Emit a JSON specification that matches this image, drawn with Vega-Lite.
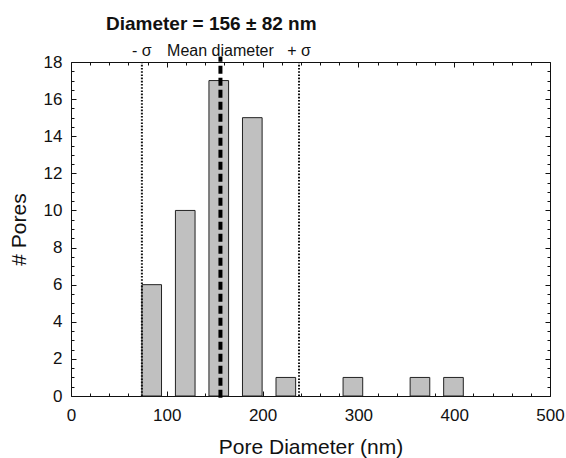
{
  "$schema": "https://vega.github.io/schema/vega-lite/v6.json",
  "width": 479,
  "height": 334,
  "autosize": "none",
  "padding": {"left": 71, "top": 62, "right": 16, "bottom": 62},
  "background": "white",
  "config": {
    "view": {"stroke": "#111", "strokeWidth": 1},
    "font": "Liberation Sans",
    "axis": {
      "domain": false,
      "grid": false,
      "labelFont": "Liberation Sans",
      "titleFont": "Liberation Sans",
      "labelColor": "#111",
      "titleColor": "#111",
      "titleFontWeight": "normal",
      "tickColor": "#111",
      "tickWidth": 1
    }
  },
  "title": {
    "text": "Diameter = 156 ± 82 nm",
    "anchor": "start",
    "frame": "group",
    "dx": 35,
    "fontSize": 19,
    "font": "Liberation Sans",
    "fontWeight": "bold",
    "baseline": "alphabetic",
    "offset": -6,
    "color": "#111"
  },
  "datasets": {
    "bins": [
      {"start": 74, "end": 94.5, "count": 6},
      {"start": 109, "end": 129.5, "count": 10},
      {"start": 144, "end": 164.5, "count": 17},
      {"start": 179, "end": 199.5, "count": 15},
      {"start": 214, "end": 234.5, "count": 1},
      {"start": 284, "end": 304.5, "count": 1},
      {"start": 354, "end": 374.5, "count": 1},
      {"start": 389, "end": 409.5, "count": 1}
    ],
    "sigma": [
      {"d": 74, "label": "- σ"},
      {"d": 238, "label": "+ σ"}
    ],
    "mean": [
      {"d": 156, "label": "Mean diameter"}
    ]
  },
  "layer": [
    {
      "data": {"name": "bins"},
      "mark": {"type": "rect", "fill": "#c0c0c0", "stroke": "#222", "strokeWidth": 1},
      "encoding": {
        "x": {
          "field": "start", "type": "quantitative",
          "scale": {"domain": [0, 500], "nice": false, "zero": false},
          "axis": {"orient": "bottom", "values": [0, 100, 200, 300, 400, 500], "tickSize": -5, "labelFontSize": 17, "labelPadding": 16, "title": "Pore Diameter (nm)", "titleFontSize": 21, "titlePadding": 13, "labelFlush": false}
        },
        "x2": {"field": "end"},
        "y": {
          "field": "count", "type": "quantitative",
          "scale": {"domain": [0, 18], "nice": false},
          "axis": {"orient": "left", "values": [0, 2, 4, 6, 8, 10, 12, 14, 16, 18], "tickSize": -5, "labelFontSize": 17, "labelPadding": 14, "title": "# Pores", "titleFontSize": 21, "titlePadding": 14, "labelFlush": false}
        },
        "y2": {"datum": 0}
      }
    },
    {
      "data": {"name": "sigma"},
      "mark": {"type": "rule", "stroke": "#111", "strokeWidth": 2, "strokeDash": [1.6, 1.6]},
      "encoding": {
        "x": {
          "field": "d", "type": "quantitative",
          "axis": {"orient": "bottom", "values": [20, 40, 60, 80, 120, 140, 160, 180, 220, 240, 260, 280, 320, 340, 360, 380, 420, 440, 460, 480], "tickSize": -3, "labels": false, "title": null}
        },
        "y": {"datum": 0, "type": "quantitative",
          "axis": {"orient": "left", "values": [0.5, 1, 1.5, 2.5, 3, 3.5, 4.5, 5, 5.5, 6.5, 7, 7.5, 8.5, 9, 9.5, 10.5, 11, 11.5, 12.5, 13, 13.5, 14.5, 15, 15.5, 16.5, 17, 17.5], "tickSize": -3, "labels": false, "title": null}
        },
        "y2": {"datum": 18}
      }
    },
    {
      "data": {"name": "mean"},
      "mark": {"type": "rule", "stroke": "#000", "strokeWidth": 4, "strokeDash": [8, 4]},
      "encoding": {
        "x": {
          "field": "d", "type": "quantitative",
          "axis": {"orient": "top", "values": [0, 100, 200, 300, 400, 500], "tickSize": -5, "labels": false, "title": null}
        },
        "y": {"datum": -0.1, "type": "quantitative",
          "axis": {"orient": "right", "values": [0, 2, 4, 6, 8, 10, 12, 14, 16, 18], "tickSize": -5, "labels": false, "title": null}
        },
        "y2": {"datum": 18.3}
      }
    },
    {
      "data": {"values": [
        {"d": 74, "label": "- σ"},
        {"d": 156, "label": "Mean diameter"},
        {"d": 238, "label": "+ σ"}
      ]},
      "mark": {"type": "text", "fontSize": 16, "font": "Liberation Sans", "color": "#111", "baseline": "alphabetic", "align": "center", "dy": -6},
      "encoding": {
        "x": {
          "field": "d", "type": "quantitative",
          "axis": {"orient": "top", "values": [20, 40, 60, 80, 120, 140, 160, 180, 220, 240, 260, 280, 320, 340, 360, 380, 420, 440, 460, 480], "tickSize": -3, "labels": false, "title": null}
        },
        "y": {"datum": 18, "type": "quantitative",
          "axis": {"orient": "right", "values": [0.5, 1, 1.5, 2.5, 3, 3.5, 4.5, 5, 5.5, 6.5, 7, 7.5, 8.5, 9, 9.5, 10.5, 11, 11.5, 12.5, 13, 13.5, 14.5, 15, 15.5, 16.5, 17, 17.5], "tickSize": -3, "labels": false, "title": null}
        },
        "text": {"field": "label"}
      }
    }
  ],
  "resolve": {"axis": {"x": "independent", "y": "independent"}}
}
